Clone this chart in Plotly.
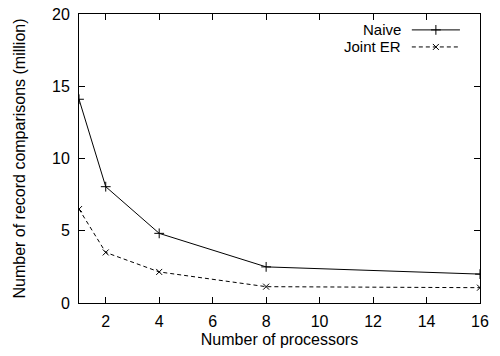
import plotly.graph_objects as go

processors = [1, 2, 4, 8, 16]
naive = [14.1, 8.05, 4.82, 2.5, 2.0]
joint_er = [6.5, 3.5, 2.15, 1.13, 1.06]
x_ticks = [2, 4, 6, 8, 10, 12, 14, 16]
y_ticks = [0, 5, 10, 15, 20]
series_names = ["Naive", "Joint ER"]

FONT = dict(family="Liberation Sans, Arial, Helvetica, sans-serif", size=16, color="black")
LEG_FONT = dict(FONT, size=15)

fig = go.Figure()
fig.add_trace(go.Scatter(
    x=processors, y=naive, mode="lines+markers", name=series_names[0],
    line=dict(color="black", width=1),
    marker=dict(symbol="cross-thin", size=7, line=dict(color="black", width=1)),
    showlegend=False))
fig.add_trace(go.Scatter(
    x=processors, y=joint_er, mode="lines+markers", name=series_names[1],
    line=dict(color="black", width=1, dash="4px,3px"),
    marker=dict(symbol="x-thin", size=6, line=dict(color="black", width=1)),
    showlegend=False))

# gnuplot-style legend (label on the left, sample on the right), on a hidden overlay axis
leg_y = [0.945, 0.886]
styles = [(dict(color="black", width=1), "cross-thin", 7),
          (dict(color="black", width=1, dash="4px,3px"), "x-thin", 6)]
for name, ly, (ln, sym, sz) in zip(series_names, leg_y, styles):
    fig.add_trace(go.Scatter(x=[0.830, 0.950], y=[ly, ly], mode="lines", line=ln,
                             xaxis="x2", yaxis="y2", showlegend=False, hoverinfo="skip"))
    fig.add_trace(go.Scatter(x=[0.890], y=[ly], mode="markers",
                             marker=dict(symbol=sym, size=sz, line=dict(color="black", width=1)),
                             xaxis="x2", yaxis="y2", showlegend=False, hoverinfo="skip"))
    fig.add_annotation(x=0.8055, y=ly, xref="paper", yref="paper", text=name,
                       showarrow=False, xanchor="right", yanchor="middle", font=LEG_FONT,
                       borderpad=0)

axis_common = dict(showline=True, linecolor="black", linewidth=1, mirror="allticks",
                   ticks="inside", ticklen=6, tickcolor="black", tickwidth=1,
                   showgrid=False, zeroline=False, tickfont=FONT, automargin=False)

fig.update_layout(
    width=500, height=356,
    margin=dict(l=79, r=20, t=14, b=53),
    paper_bgcolor="white", plot_bgcolor="white",
    font=FONT,
    xaxis=dict(range=[1, 16], tickvals=x_ticks,
               title=dict(text="Number of processors", font=FONT, standoff=4),
               ticklabelstandoff=4, **axis_common),
    yaxis=dict(range=[0, 20], tickvals=y_ticks,
               title=dict(text="Number of record comparisons (million)", font=FONT, standoff=22),
               ticklabelstandoff=5, **axis_common),
    xaxis2=dict(overlaying="x", range=[0, 1], visible=False),
    yaxis2=dict(overlaying="y", range=[0, 1], visible=False),
    showlegend=False,
)

fig.write_html("out.html")
